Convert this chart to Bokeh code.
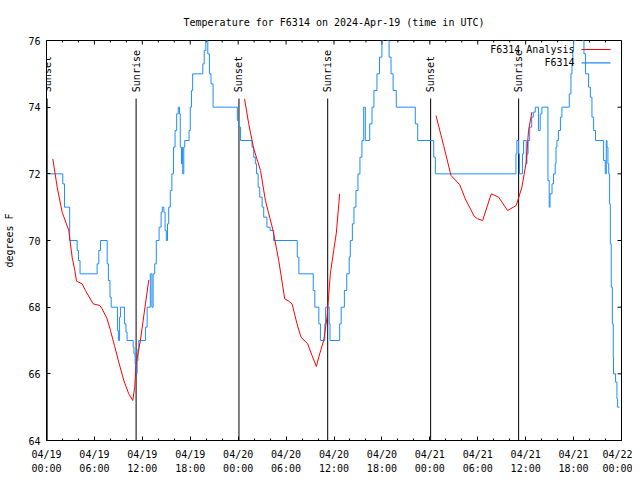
import math
import pandas as pd
from bokeh.plotting import figure
from bokeh.models import (Range1d, FixedTicker, DatetimeTickFormatter, Label, BoxAnnotation,
                          ColumnDataSource)
from bokeh.core.properties import value
from bokeh.embed import file_html
from bokeh.resources import INLINE

# ---------------- data ----------------
start_time = "2024-04-19 00:00"
span_hours = 72
title_text = "Temperature for F6314 on 2024-Apr-19 (time in UTC)"
y_label = "degrees F"
y_ticks = [64, 66, 68, 70, 72, 74, 76]
x_major_hours = [0, 6, 12, 18, 24, 30, 36, 42, 48, 54, 60, 66, 72]
x_minor_hours = list(range(0, 73, 2))

# observed temperatures (hours after start, deg F), drawn as steps
obs_hours = [0.0, 2.04, 2.25, 2.9, 3.84, 4.0, 4.2, 6.34, 6.55, 6.76, 7.6, 7.75, 7.95, 8.1,
             8.9, 9.0, 9.15, 9.26, 9.76, 9.95, 10.09, 10.85, 10.95, 11.1, 11.26, 11.35,
             11.45, 11.55, 12.39, 12.6, 13.0, 13.2, 13.35, 13.55, 13.75, 14.1,
             14.35, 14.5, 14.7, 14.85, 15.0, 15.15, 15.3, 15.5, 15.7, 15.9, 16.1, 16.3,
             16.5, 16.65, 16.75, 16.9, 17.0, 17.06, 17.19, 17.31, 17.85, 18.0, 18.15, 18.3,
             19.57, 19.75, 19.95, 20.2, 20.4, 20.6, 20.86, 23.9, 24.05, 24.3,
             25.74, 25.95, 26.15, 26.3, 26.5, 26.7, 27.0, 27.2, 27.6, 28.0, 28.44, 31.4,
             31.6, 33.4, 33.6, 34.1, 34.3, 34.85, 34.95, 35.4, 35.5, 36.71, 36.9, 37.3,
             37.6, 37.9, 38.04, 38.3, 38.5, 38.75, 39.0, 39.25, 39.5, 39.72, 39.92, 40.47,
             40.76, 41.0, 41.38, 41.7, 42.0, 42.2, 42.6, 42.9, 43.14, 43.4, 43.8, 46.18,
             46.48, 48.49, 48.69,
             58.78, 58.9, 59.1, 59.23, 59.6, 59.74, 60.07, 60.15, 60.3, 60.5, 60.75, 60.95,
             61.2, 61.6, 61.82, 62.03, 62.79, 62.95, 63.05, 63.3, 63.49, 63.7, 63.8, 63.91,
             64.1, 64.35, 64.54, 65.46, 65.67, 65.8, 65.9, 66.0, 66.3, 67.1, 67.3, 67.5,
             67.88, 68.1, 68.3, 68.51, 68.75, 69.76, 69.97, 70.1, 70.18, 70.3, 70.4, 70.51,
             70.6, 70.72, 70.85, 70.97, 71.0, 71.26, 71.43, 71.51, 71.76]
obs_temps = [72.0, 71.7, 71.0, 70.0, 69.7, 69.4, 69.0, 69.3, 69.7, 70.0, 69.3, 68.8, 68.3, 68.0,
             67.3, 67.0, 67.7, 68.0, 67.5, 67.25, 67.0, 66.8, 66.6, 66.3, 66.0, 66.4,
             66.75, 67.0, 67.4, 68.0, 69.0, 68.0, 69.0, 69.3, 70.0, 70.4,
             70.85, 71.0, 70.85, 70.3, 70.0, 70.5, 71.0, 71.5, 72.0, 72.8, 73.3, 73.8,
             74.0, 73.8, 72.8, 72.3, 72.8, 72.0, 72.8, 73.0, 73.3, 74.0, 74.5, 75.0,
             75.3, 75.7, 76.0, 75.6, 75.0, 74.7, 74.0, 73.6, 73.4, 73.0,
             72.8, 72.5, 72.3, 72.0, 71.6, 71.3, 71.0, 70.7, 70.4, 70.3, 70.0, 69.5,
             69.0, 68.5, 68.0, 67.5, 67.0, 67.5, 68.0, 67.5, 67.0, 67.5, 68.0, 68.5,
             69.0, 69.5, 70.0, 70.5, 71.0, 71.5, 72.0, 72.5, 73.0, 74.0, 73.0, 73.5,
             74.0, 74.5, 75.0, 75.5, 76.0, 76.4, 76.0, 75.5, 75.0, 74.5, 74.0, 73.5,
             73.0, 72.5, 72.0,
             72.6, 73.0, 72.6, 72.0, 72.6, 73.0, 72.3, 72.6, 73.0, 73.4, 73.7, 73.85,
             74.0, 73.3, 73.8, 74.0, 71.8, 71.0, 71.4, 71.7, 72.0, 72.3, 72.8, 73.0,
             73.3, 73.7, 74.0, 74.4, 75.0, 75.3, 75.7, 76.0, 76.5, 76.0, 75.6, 75.0,
             74.6, 74.3, 73.7, 73.3, 73.0, 72.4, 72.0, 73.0, 72.8, 72.3, 72.0, 71.1,
             69.9, 68.6, 67.5, 66.5, 66.0, 65.75, 65.25, 65.0, 65.0]

# analysis temperatures, three runs
ana1_hours = [0.79, 1.34, 1.96, 2.79, 3.21, 3.55, 3.76, 4.46, 4.88, 5.84, 6.67, 6.97, 7.59,
              8.01, 8.51, 9.05, 9.68, 10.3, 10.8, 11.05, 11.22, 11.76, 12.39, 12.81]
ana1_temps = [72.45, 71.6, 70.85, 70.3, 69.5, 69.1, 68.78, 68.7, 68.5, 68.1, 68.05, 67.95, 67.65,
              67.3, 66.85, 66.35, 65.8, 65.4, 65.2, 65.6, 66.3, 67.0, 68.1, 68.82]
ana2_hours = [24.8, 25.32, 25.95, 26.8, 27.41, 28.37, 29.08, 29.83, 30.33, 30.75, 31.37, 31.87,
              32.71, 33.25, 33.79, 34.21, 34.71, 35.13, 35.54, 35.96, 36.29, 36.71]
ana2_temps = [74.25, 73.5, 72.75, 72.1, 71.2, 70.3, 69.4, 68.25, 68.18, 68.1, 67.5, 67.1,
              66.9, 66.55, 66.22, 66.6, 67.0, 67.7, 69.0, 69.7, 70.22, 71.4]
ana3_hours = [48.77, 49.73, 50.65, 51.73, 52.44, 53.57, 53.99, 54.61, 55.69, 56.61, 57.74,
              58.82, 59.53, 60.07, 60.36, 60.78]
ana3_temps = [73.75, 72.85, 71.95, 71.68, 71.25, 70.72, 70.65, 70.6, 71.4, 71.3, 70.9,
              71.05, 71.6, 72.35, 73.3, 73.85]

# sun events (hours after start)
sun_hours = [0.08, 11.22, 24.1, 35.21, 48.1, 59.12]
sun_names = ["Sunset", "Sunrise", "Sunset", "Sunrise", "Sunset", "Sunrise"]

# ---------------- styles ----------------
FONT = "DejaVu Sans Mono"
FS = "10px"
OBS_COLOR = "#1e8cff"
ANA_COLOR = "#ff0000"
SUN_LINE_TOP = 74.26
SUN_LABEL_Y = 74.45
FRAME_W, FRAME_H = 575, 400
MAJOR_TICK_PX, MINOR_TICK_PX = 4, 2

t0_ms = pd.Timestamp(start_time).value // 10**6
H = 3600 * 1000.0


def to_ms(hours):
    return [t0_ms + h * H for h in hours]


x_lo, x_hi = t0_ms, t0_ms + span_hours * H
y_lo, y_hi = y_ticks[0], y_ticks[-1]

p = figure(x_axis_type="datetime", frame_width=FRAME_W, frame_height=FRAME_H,
           min_border_left=46, min_border_right=11, min_border_top=40, min_border_bottom=32,
           x_range=Range1d(x_lo, x_hi), y_range=Range1d(y_lo, y_hi),
           output_backend="svg", toolbar_location=None)
p.background_fill_color = "white"
p.border_fill_color = "white"
p.outline_line_color = "black"
p.xgrid.grid_line_color = None
p.ygrid.grid_line_color = None

p.title.text = title_text
p.title.align = "center"
p.title.text_font = FONT
p.title.text_font_size = FS
p.title.text_font_style = "normal"
p.title.text_color = "black"
p.title.standoff = 26

fmt_str = "%m/%d\n%H:%M"


def style_axis(ax):
    ax.axis_line_color = "black"
    ax.major_tick_line_color = "black"
    ax.minor_tick_line_color = "black"
    ax.major_tick_in = MAJOR_TICK_PX
    ax.major_tick_out = 0
    ax.minor_tick_in = MINOR_TICK_PX
    ax.minor_tick_out = 0
    ax.major_label_text_font = FONT
    ax.major_label_text_font_size = FS
    ax.major_label_text_color = "black"


xa = p.xaxis[0]
xa.ticker = FixedTicker(ticks=to_ms(x_major_hours), minor_ticks=to_ms(x_minor_hours))
xa.formatter = DatetimeTickFormatter(milliseconds=fmt_str, seconds=fmt_str, minsec=fmt_str,
                                     minutes=fmt_str, hourmin=fmt_str, hours=fmt_str,
                                     days=fmt_str, months=fmt_str, years=fmt_str)
style_axis(xa)
xa.major_label_standoff = 8
xa.major_label_text_line_height = 1.33

ya = p.yaxis[0]
ya.ticker = FixedTicker(ticks=y_ticks, minor_ticks=[])
style_axis(ya)
ya.major_label_standoff = 6
ya.axis_label = y_label
ya.axis_label_text_font = FONT
ya.axis_label_text_font_size = FS
ya.axis_label_text_font_style = "normal"
ya.axis_label_text_color = "black"
ya.axis_label_standoff = 10

# mirrored inward ticks on the top and right edges of the frame
px_y = (y_hi - y_lo) / FRAME_H
px_x = (x_hi - x_lo) / FRAME_W
minor_only = [h for h in x_minor_hours if h not in x_major_hours]
top_x = to_ms(x_major_hours) + to_ms(minor_only)
top_len = [MAJOR_TICK_PX * px_y] * len(x_major_hours) + [MINOR_TICK_PX * px_y] * len(minor_only)
p.segment(x0=top_x, y0=[y_hi] * len(top_x), x1=top_x, y1=[y_hi - l for l in top_len],
          line_color="black", line_width=1)
p.segment(x0=[x_hi] * len(y_ticks), y0=y_ticks, x1=[x_hi - MAJOR_TICK_PX * px_x] * len(y_ticks),
          y1=y_ticks, line_color="black", line_width=1)

# sun lines and labels
sun_src = ColumnDataSource(dict(x=to_ms(sun_hours), name=sun_names,
                                top=[SUN_LINE_TOP] * len(sun_hours),
                                bottom=[y_lo] * len(sun_hours),
                                ly=[SUN_LABEL_Y] * len(sun_hours)))
p.segment(x0="x", y0="top", x1="x", y1="bottom", source=sun_src, line_color="black", line_width=1)
p.text(x="x", y="ly", text="name", source=sun_src, angle=math.pi / 2, text_align="left",
       text_baseline="middle", text_font=value(FONT), text_font_size=FS, text_color="black")

# data
p.step(to_ms(obs_hours), obs_temps, mode="after", line_color=OBS_COLOR, line_width=1)
for hh, tt in ((ana1_hours, ana1_temps), (ana2_hours, ana2_temps), (ana3_hours, ana3_temps)):
    p.line(to_ms(hh), tt, line_color=ANA_COLOR, line_width=1)

# legend (text left of sample, gnuplot style)
for i, (name, col) in enumerate((("F6314 Analysis", ANA_COLOR), ("F6314", OBS_COLOR))):
    yy = 391 - i * 13.3
    p.add_layout(Label(x=528, y=yy, x_units="screen", y_units="screen", text=name,
                       text_align="right", text_baseline="middle", text_font=FONT,
                       text_font_size=FS, text_color="black"))
    p.add_layout(BoxAnnotation(left=535, right=564, bottom=yy - 0.6, top=yy + 0.6,
                               left_units="screen", right_units="screen",
                               bottom_units="screen", top_units="screen",
                               fill_color=col, fill_alpha=1.0, line_color=None))

open("out.html", "w").write(file_html(p, INLINE))
